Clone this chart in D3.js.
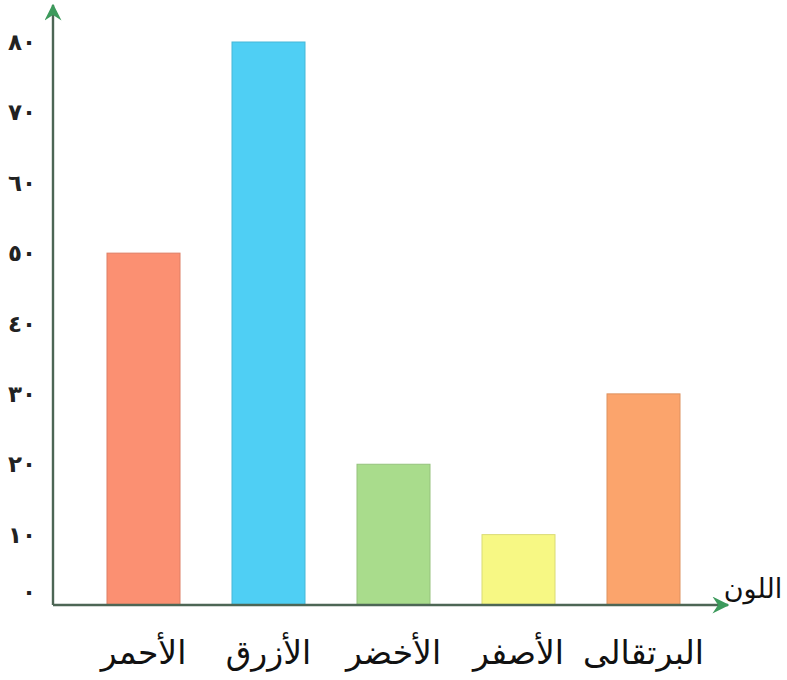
<!DOCTYPE html>
<html><head><meta charset="utf-8">
<script src="https://cdn.jsdelivr.net/npm/d3@7"></script>
<style>body{margin:0;background:#fff}svg{display:block}</style>
</head><body>
<script>
const categories = ["الأحمر","الأزرق","الأخضر","الأصفر","البرتقالى"];
const values = [50, 80, 20, 10, 30];
const colors = ["#fb9072","#4fcff4","#a9dc8c","#f7f884","#fba46c"];
const tickValues = [0,10,20,30,40,50,60,70,80];
const tickLabels = ["٠","١٠","٢٠","٣٠","٤٠","٥٠","٦٠","٧٠","٨٠"];
const xAxisTitle = "اللون";

const W = 787, H = 680;
const svg = d3.select("body").append("svg").attr("width", W).attr("height", H);
const defs = svg.append("defs");
defs.append("marker").attr("id","arr").attr("viewBox","0 0 12 12").attr("refX",11).attr("refY",6)
  .attr("markerWidth",17).attr("markerHeight",17).attr("markerUnits","userSpaceOnUse").attr("orient","auto")
  .append("path").attr("d","M0,0 L12,6 L0,12 L4,6 Z").attr("fill","#3d9a5c");

const x = d3.scaleBand().domain(categories).range([81, 706]).paddingInner(0.416).paddingOuter(0.208);
const y = d3.scaleLinear().domain([0, 80]).range([605, 42]);

svg.selectAll("rect.bar").data(categories).enter().append("rect")
  .attr("class","bar")
  .attr("x", d => x(d))
  .attr("width", x.bandwidth())
  .attr("y", (d,i) => y(values[i]))
  .attr("height", (d,i) => y(0) - y(values[i]))
  .attr("fill", (d,i) => colors[i])
  .attr("stroke", (d,i) => d3.color(colors[i]).darker(0.35))
  .attr("stroke-width", 1);

// axes lines
svg.append("line").attr("x1",53).attr("y1",y(0)).attr("x2",53).attr("y2",5)
  .attr("stroke","#4d6655").attr("stroke-width",2.4).attr("marker-end","url(#arr)");
svg.append("line").attr("x1",53).attr("y1",y(0)).attr("x2",728).attr("y2",y(0))
  .attr("stroke","#4d6655").attr("stroke-width",2.4).attr("marker-end","url(#arr)");

// y tick labels
svg.selectAll("text.yt").data(tickValues).enter().append("text")
  .attr("class","yt")
  .attr("x", 36)
  .attr("y", (d,i) => i === 0 ? y(d) - 5 : y(d) + 8)
  .attr("text-anchor","end")
  .attr("font-family","'DejaVu Sans', sans-serif")
  .attr("font-size", 23)
  .attr("font-weight","bold")
  .attr("fill","#222")
  .text((d,i) => tickLabels[i]);

// x category labels
svg.selectAll("text.xt").data(categories).enter().append("text")
  .attr("class","xt")
  .attr("x", d => x(d) + x.bandwidth()/2)
  .attr("y", 664)
  .attr("text-anchor","middle")
  .attr("font-family","'DejaVu Sans', sans-serif")
  .attr("font-size", 33)
  .attr("fill","#111")
  .text(d => d);

svg.append("text").attr("x", 753).attr("y", 598).attr("text-anchor","middle")
  .attr("font-family","'DejaVu Sans', sans-serif").attr("font-size",27).attr("fill","#111")
  .text(xAxisTitle);
</script>
</body></html>
